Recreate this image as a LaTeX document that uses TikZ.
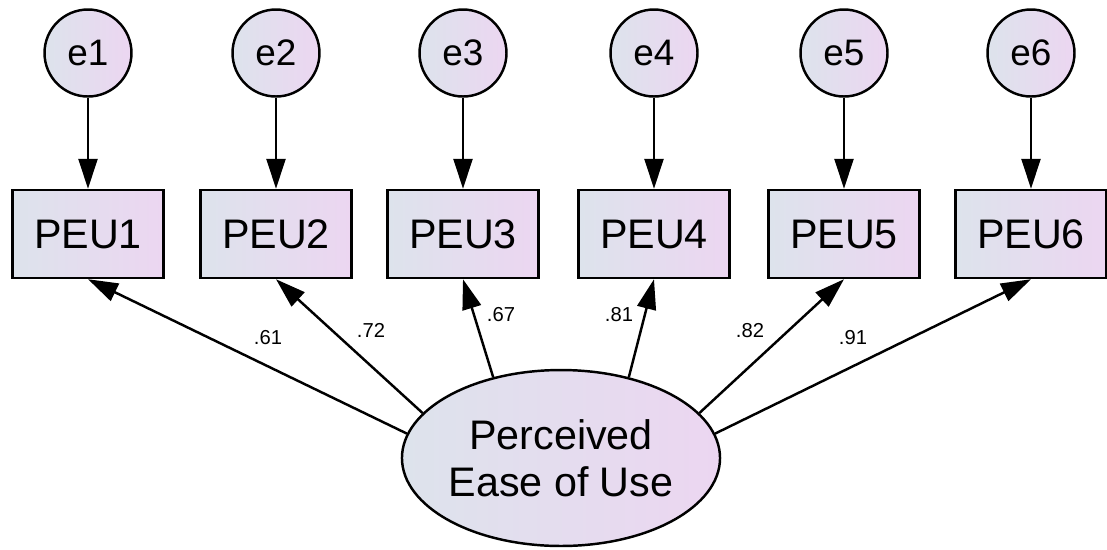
\documentclass[tikz,border=0pt]{standalone}
\usepackage{fontspec}
\setmainfont{Liberation Sans}
\usetikzlibrary{arrows.meta,shapes.geometric}
\definecolor{amosblue}{HTML}{DDE3EC}
\definecolor{amospink}{HTML}{ECD6F1}
\tikzset{
  errvar/.style={circle, draw, line width=1.4pt, minimum size=1.74cm, inner sep=0pt,
    left color=amosblue, right color=amospink, font=\fontsize{21}{24}\selectfont},
  obsvar/.style={rectangle, draw, line width=1.4pt, minimum width=3.02cm, minimum height=1.76cm,
    inner sep=0pt, left color=amosblue, right color=amospink, font=\fontsize{23.5}{27}\selectfont},
  latvar/.style={ellipse, draw, line width=1.4pt, minimum width=6.12cm, minimum height=3.52cm,
    inner sep=0pt, align=center, left color=amosblue, right color=amospink,
    font=\fontsize{23.5}{26.7}\selectfont},
  regpath/.style={-{Triangle[length=0.6cm,width=0.38cm]}, line width=1.4pt},
  coef/.style={font=\fontsize{11.5}{14}\selectfont}
}
\begin{document}
\begin{tikzpicture}[x=0.02cm,y=-0.02cm]
  \useasboundingbox (0,0) rectangle (1107,549);

  % Error terms
  \node[errvar] (e1) at (88,53) {e1};
  \node[errvar] (e2) at (276,53) {e2};
  \node[errvar] (e3) at (463,53) {e3};
  \node[errvar] (e4) at (654,53) {e4};
  \node[errvar] (e5) at (844,53) {e5};
  \node[errvar] (e6) at (1031,53) {e6};

  % Observed items
  \node[obsvar] (PEU1) at (88,234) {PEU1};
  \node[obsvar] (PEU2) at (276,234) {PEU2};
  \node[obsvar] (PEU3) at (463,234) {PEU3};
  \node[obsvar] (PEU4) at (654,234) {PEU4};
  \node[obsvar] (PEU5) at (844,234) {PEU5};
  \node[obsvar] (PEU6) at (1031,234) {PEU6};

  % Latent factor
  \node[latvar] (PEOU) at (561,458) {Perceived\\Ease of Use};

  % Error arrows
  \draw[regpath] (e1) -- (PEU1);
  \draw[regpath] (e2) -- (PEU2);
  \draw[regpath] (e3) -- (PEU3);
  \draw[regpath] (e4) -- (PEU4);
  \draw[regpath] (e5) -- (PEU5);
  \draw[regpath] (e6) -- (PEU6);

  % Loadings
  \draw[regpath] (PEOU.171) -- (PEU1.south);
  \draw[regpath] (PEOU.162) -- (PEU2.south);
  \draw[regpath] (PEOU.130) -- (PEU3.south);
  \draw[regpath] (PEOU.50) -- (PEU4.south);
  \draw[regpath] (PEOU.18) -- (PEU5.south);
  \draw[regpath] (PEOU.9) -- (PEU6.south);

  \node[coef] (l1) at (268,338) {.61};
  \node[coef] (l2) at (371,330) {.72};
  \node[coef] (l3) at (501,315) {.67};
  \node[coef] (l4) at (619,315) {.81};
  \node[coef] (l5) at (750,331) {.82};
  \node[coef] (l6) at (853,338) {.91};
\end{tikzpicture}
\end{document}
